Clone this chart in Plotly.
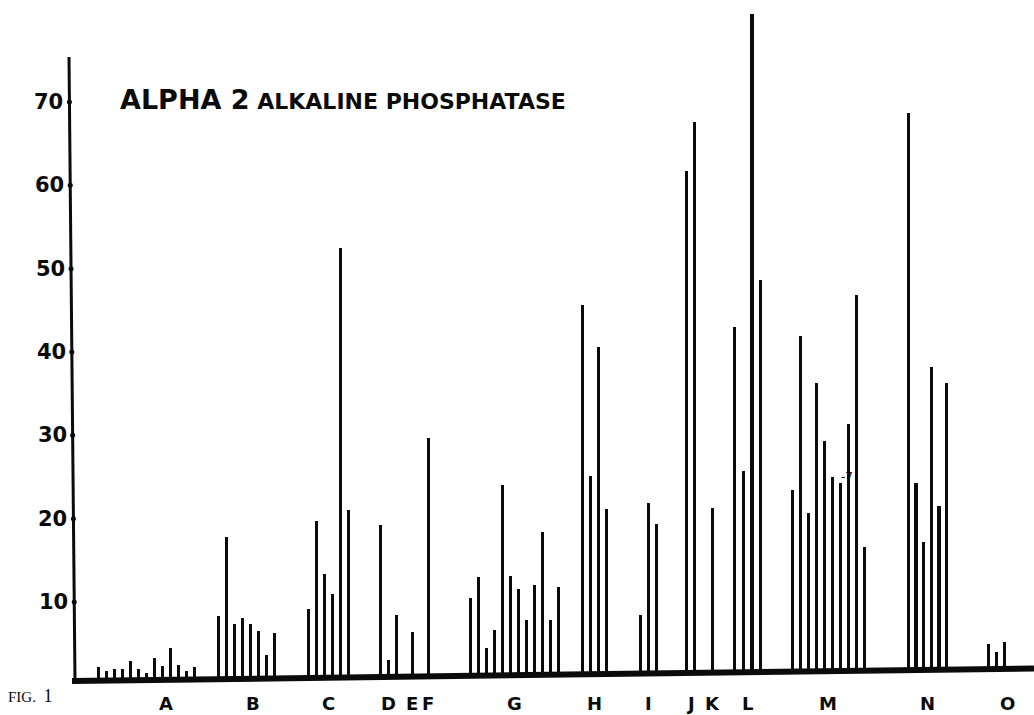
import plotly.graph_objects as go

# ---------------- data ----------------
GROUPS = ["A", "B", "C", "D", "E", "F", "G", "H", "I", "J", "K", "L", "M", "N", "O"]

VALUES_A = [1.6, 1.1, 1.4, 1.4, 2.3, 1.4, 0.8, 2.6, 1.7, 3.8, 1.7, 1.0, 1.5]
VALUES_B = [7.6, 17.1, 6.6, 7.3, 6.6, 5.7, 2.8, 5.5]
VALUES_C = [8.3, 18.8, 12.5, 10.0, 51.6, 20.1]
VALUES_D = [18.3, 2.0, 7.4]
VALUES_E = [5.4]
VALUES_F = [28.6]
VALUES_G = [9.3, 11.9, 3.3, 5.5, 22.9, 11.9, 10.4, 6.6, 10.8, 17.2, 6.6, 10.5]
VALUES_H = [44.3, 23.8, 39.2, 19.8]
VALUES_I = [7.0, 20.5, 17.9]
VALUES_J = [60.3, 66.1]
VALUES_K = [19.8]
VALUES_L = [41.5, 24.1, 79.0, 47.0]
VALUES_M = [21.8, 40.3, 19.0, 34.6, 27.6, 23.3, 22.6, 29.6, 45.1, 14.9]
VALUES_N = [66.9, 22.4, 15.4, 36.3, 19.7, 34.4]
VALUES_O = [3.0, 2.0, 3.2]

Y_TICKS = [10, 20, 30, 40, 50, 60, 70]
TITLE_BIG = "ALPHA 2"
TITLE_SMALL = "ALKALINE PHOSPHATASE"
FIG_LABEL = "FIG."
FIG_NUMBER = "1"

SERIES = {
    "A": VALUES_A, "B": VALUES_B, "C": VALUES_C, "D": VALUES_D, "E": VALUES_E,
    "F": VALUES_F, "G": VALUES_G, "H": VALUES_H, "I": VALUES_I, "J": VALUES_J,
    "K": VALUES_K, "L": VALUES_L, "M": VALUES_M, "N": VALUES_N, "O": VALUES_O,
}

# ---------------- layout (sample slots along the x axis) ----------------
GROUP_START = {"A": 0, "B": 15, "C": 26.25, "D": 35.25, "E": 39.25, "F": 41.25,
               "G": 46.5, "H": 60.5, "I": 67.75, "J": 73.5, "K": 76.75, "L": 79.5,
               "M": 86.75, "N": 101.25, "O": 111.25}
GROUP_STEP = {"L": 1.1, "N": 0.96}
LABEL_SHIFT = {"A": 2.4, "B": 0.85, "O": 1.45}

W, H = 1034, 715
PX_PER_SLOT = 8.0
SLOT0_PX = 98.3
Y0_PX = 685.3
PX_PER_UNIT = 8.333
INK = "#0b0b0b"


def slot_of_px(px):
    return (px - SLOT0_PX) / PX_PER_SLOT


def px_of_slot(s):
    return SLOT0_PX + s * PX_PER_SLOT


def val_of_py(py):
    return (Y0_PX - py) / PX_PER_UNIT


def base_py(px):
    # hand-drawn baseline rises slightly to the right
    return 681.0 - 0.0131 * (px - 75.0)


def base_val_at_slot(s):
    return val_of_py(base_py(px_of_slot(s)))


def axis_px(py):
    # hand-drawn y axis leans slightly
    return 69.0 + 6.0 * (py - 57.0) / (681.0 - 57.0)


xs, ys, bases = [], [], []
label_pos = {}
for g in GROUPS:
    vals = SERIES[g]
    step = GROUP_STEP.get(g, 1.0)
    pos = [GROUP_START[g] + i * step for i in range(len(vals))]
    xs += pos
    ys += vals
    bases += [base_val_at_slot(p) for p in pos]
    label_pos[g] = (pos[0] + pos[-1]) / 2 + LABEL_SHIFT.get(g, 0.0)

fig = go.Figure()
fig.add_trace(go.Bar(
    x=xs, y=ys, base=bases, width=0.4,
    marker=dict(color=INK, line=dict(width=0)),
    showlegend=False, hoverinfo="skip",
))

# tick dots on the axis
tick_x = [slot_of_px(axis_px(Y0_PX - PX_PER_UNIT * v)) for v in Y_TICKS]
fig.add_trace(go.Scatter(
    x=tick_x, y=Y_TICKS, mode="markers",
    marker=dict(color=INK, size=5), showlegend=False, hoverinfo="skip",
))

shapes = []
# baseline
x_l, x_r = 72.0, 1034.0
shapes.append(dict(type="line", xref="x", yref="y",
                   x0=slot_of_px(x_l), y0=val_of_py(base_py(x_l)),
                   x1=slot_of_px(x_r), y1=val_of_py(base_py(x_r)),
                   line=dict(color=INK, width=6)))
# y axis
shapes.append(dict(type="line", xref="x", yref="y",
                   x0=slot_of_px(axis_px(57)), y0=val_of_py(57),
                   x1=slot_of_px(axis_px(683)), y1=val_of_py(683),
                   line=dict(color=INK, width=3)))

annotations = []
for v in Y_TICKS:
    py = Y0_PX - PX_PER_UNIT * v
    annotations.append(dict(
        x=slot_of_px(axis_px(py) - 4), y=v, xref="x", yref="y",
        text="<b>%d</b>" % v, showarrow=False, xanchor="right", yanchor="middle",
        font=dict(family="DejaVu Sans", size=21, color=INK),
    ))

for g in GROUPS:
    annotations.append(dict(
        x=label_pos[g], y=val_of_py(703), xref="x", yref="y",
        text="<b>%s</b>" % g, showarrow=False, xanchor="center", yanchor="middle",
        font=dict(family="DejaVu Sans", size=18, color=INK),
    ))

annotations.append(dict(
    x=slot_of_px(118), y=val_of_py(99), xref="x", yref="y",
    text="<b><span style='font-size:27px'>%s</span> %s</b>" % (TITLE_BIG, TITLE_SMALL),
    showarrow=False, xanchor="left", yanchor="middle",
    font=dict(family="DejaVu Sans", size=22, color=INK),
))

annotations.append(dict(
    x=slot_of_px(6), y=val_of_py(696), xref="x", yref="y",
    text="<span style='font-size:15px'>%s</span>&nbsp; <span style='font-size:18px'>%s</span>" % (FIG_LABEL, FIG_NUMBER),
    showarrow=False, xanchor="left", yanchor="middle",
    font=dict(family="Liberation Serif", size=15, color=INK),
))

annotations.append(dict(
    x=slot_of_px(847), y=val_of_py(477), xref="x", yref="y",
    text="-7", showarrow=False, xanchor="center", yanchor="middle",
    font=dict(family="DejaVu Sans", size=12, color=INK),
))

fig.update_layout(
    width=W, height=H,
    margin=dict(l=0, r=0, t=0, b=0),
    paper_bgcolor="white", plot_bgcolor="white",
    xaxis=dict(range=[slot_of_px(0), slot_of_px(W)], visible=False, fixedrange=True),
    yaxis=dict(range=[val_of_py(H), val_of_py(0)], visible=False, fixedrange=True),
    shapes=shapes, annotations=annotations,
    bargap=0, hovermode=False,
)

fig.write_html(
    "out.html",
    config={"displayModeBar": False, "staticPlot": True},
    post_script="document.body.style.margin='0';document.body.style.overflow='hidden';",
)
